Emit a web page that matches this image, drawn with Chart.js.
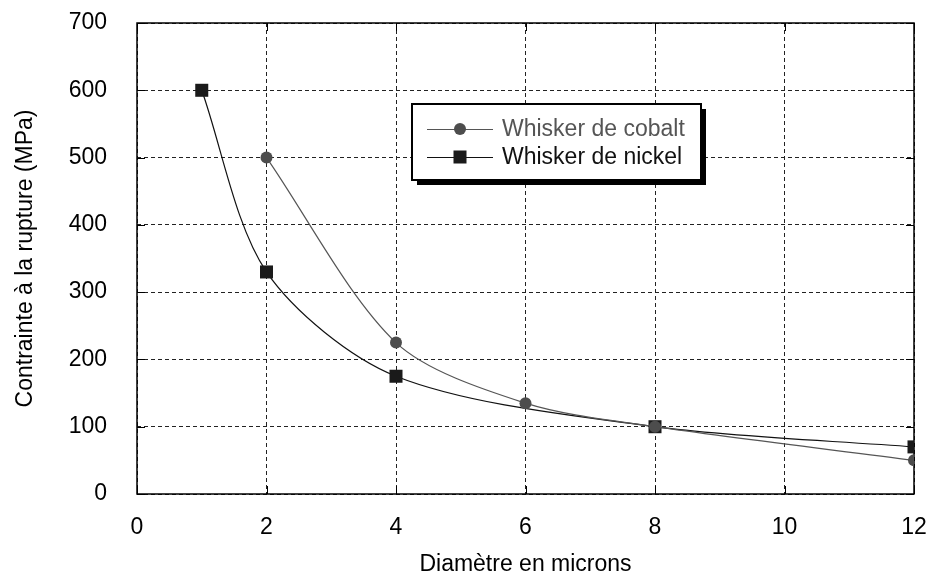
<!DOCTYPE html>
<html>
<head>
<meta charset="utf-8">
<script src="https://cdn.jsdelivr.net/npm/chart.js@4"></script>
<style>
  html, body { margin: 0; padding: 0; background: #fff; }
  #wrap { width: 930px; height: 573px; }
</style>
</head>
<body>
<div id="wrap"><canvas id="chart"></canvas></div>
<script>
// values
const cobaltX = [2, 4, 6, 8, 12];
const cobaltY = [500, 225, 135, 100, 50];
const nickelX = [1, 2, 4, 8, 12];
const nickelY = [600, 330, 175, 100, 70];
const cobaltLabel = "Whisker de cobalt";
const nickelLabel = "Whisker de nickel";
const xTitle = "Diamètre en microns";
const yTitle = "Contrainte à la rupture (MPa)";

const FONT = "'Liberation Sans', Arial, sans-serif";

function toPoints(xs, ys) {
  return xs.map((x, i) => ({ x: x, y: ys[i] }));
}

// frame + small inward ticks
const framePlugin = {
  id: "frame",
  beforeDatasetsDraw(chart) {
    const { ctx, chartArea: a, scales } = chart;
    ctx.save();
    ctx.strokeStyle = "#000";
    ctx.lineWidth = 1.5;
    ctx.strokeRect(a.left, a.top, a.right - a.left, a.bottom - a.top);
    ctx.lineWidth = 1;
    const t = 8;
    scales.y.ticks.forEach(tk => {
      const y = Math.round(scales.y.getPixelForValue(tk.value)) + 0.5;
      ctx.beginPath();
      ctx.moveTo(a.left, y); ctx.lineTo(a.left + t, y);
      ctx.moveTo(a.right, y); ctx.lineTo(a.right - t, y);
      ctx.stroke();
    });
    scales.x.ticks.forEach(tk => {
      const x = Math.round(scales.x.getPixelForValue(tk.value)) + 0.5;
      ctx.beginPath();
      ctx.moveTo(x, a.bottom); ctx.lineTo(x, a.bottom - t);
      ctx.moveTo(x, a.top); ctx.lineTo(x, a.top + t);
      ctx.stroke();
    });
    ctx.restore();
  }
};

// boxed legend with drop shadow
const legendBox = {
  id: "legendBox",
  afterDraw(chart) {
    const ctx = chart.ctx;
    const bx = 412, by = 104, bw = 289, bh = 76, sh = 5;
    ctx.save();
    ctx.fillStyle = "#000";
    ctx.fillRect(bx + sh, by + sh, bw, bh);
    ctx.fillStyle = "#fff";
    ctx.fillRect(bx, by, bw, bh);
    ctx.strokeStyle = "#000";
    ctx.lineWidth = 2;
    ctx.strokeRect(bx, by, bw, bh);

    const rows = [129, 157];
    chart.data.datasets.forEach((ds, i) => {
      const y = rows[i];
      ctx.strokeStyle = ds.borderColor;
      ctx.lineWidth = 1;
      ctx.beginPath();
      ctx.moveTo(427, y + 0.5);
      ctx.lineTo(493, y + 0.5);
      ctx.stroke();
      ctx.fillStyle = ds.pointBackgroundColor;
      if (ds.pointStyle === "rect") {
        ctx.fillRect(460 - 6.5, y - 6.5, 13, 13);
      } else {
        ctx.beginPath();
        ctx.arc(460, y, 6, 0, Math.PI * 2);
        ctx.fill();
      }
      ctx.fillStyle = ds.labelColor;
      ctx.font = "23px " + FONT;
      ctx.textBaseline = "middle";
      ctx.textAlign = "left";
      ctx.fillText(ds.label, 502, y + 1);
    });
    ctx.restore();
  }
};

new Chart("chart", {
  type: "line",
  data: {
    datasets: [
      {
        label: cobaltLabel,
        data: toPoints(cobaltX, cobaltY),
        borderColor: "#555555",
        borderWidth: 1.2,
        pointStyle: "circle",
        pointRadius: 6,
        pointBackgroundColor: "#4d4d4d",
        pointBorderWidth: 0,
        labelColor: "#555555",
        tension: 0.3,
        fill: false
      },
      {
        label: nickelLabel,
        data: toPoints(nickelX, nickelY),
        borderColor: "#111111",
        borderWidth: 1.2,
        pointStyle: "rect",
        pointRadius: 9.2,
        pointBackgroundColor: "#1a1a1a",
        pointBorderWidth: 0,
        labelColor: "#111111",
        tension: 0.3,
        fill: false
      }
    ]
  },
  options: {
    responsive: true,
    maintainAspectRatio: false,
    animation: false,
    layout: { padding: { left: 0, right: 16, top: 23, bottom: 0 } },
    plugins: { legend: { display: false }, tooltip: { enabled: false } },
    scales: {
      x: {
        type: "linear",
        min: 0, max: 12,
        afterFit(s) { s.height = 79; s.paddingLeft = 0; s.paddingRight = 0; },
        grid: { color: "#222", lineWidth: 1, drawTicks: false },
        border: { display: false, dash: [4, 3] },
        ticks: { stepSize: 2, padding: 20, color: "#000", font: { family: FONT, size: 23 } },
        title: { display: true, text: xTitle, color: "#000", padding: { top: 0, bottom: 0 }, font: { family: FONT, size: 23, lineHeight: 0.7 } }
      },
      y: {
        min: 0, max: 700,
        afterFit(s) { s.width = 137; s.paddingTop = 0; s.paddingBottom = 0; },
        grid: { color: "#222", lineWidth: 1, drawTicks: false },
        border: { display: false, dash: [4, 3] },
        ticks: { stepSize: 100, padding: 30, color: "#000", font: { family: FONT, size: 23 } },
        title: { display: true, text: yTitle, color: "#000", padding: { top: 14, bottom: 0 }, font: { family: FONT, size: 23, lineHeight: 1 } }
      }
    }
  },
  plugins: [framePlugin, legendBox]
});
</script>
</body>
</html>
